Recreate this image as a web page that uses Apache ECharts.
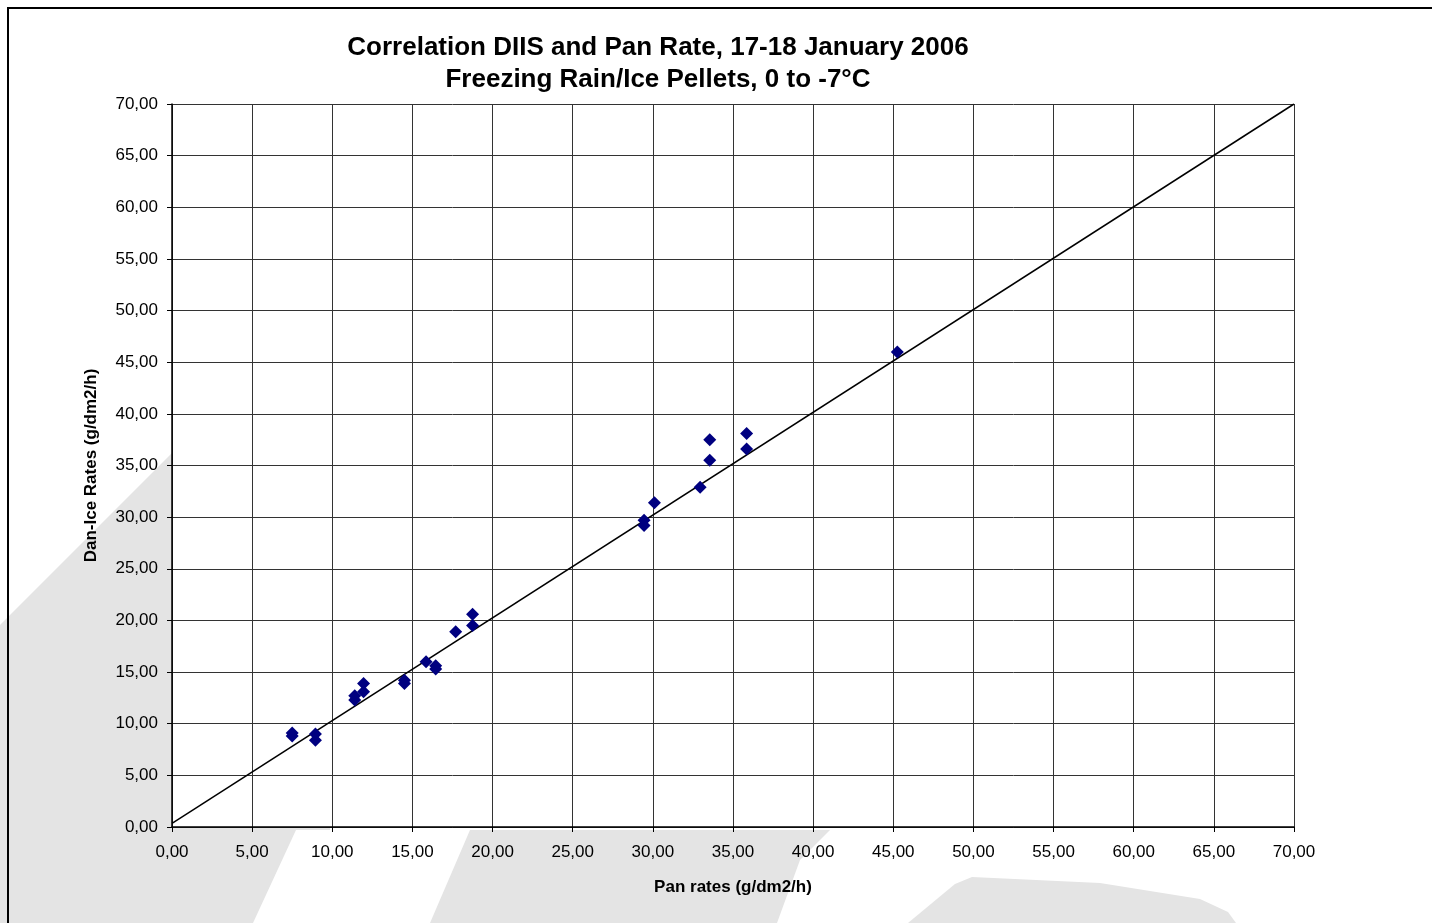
<!DOCTYPE html>
<html>
<head>
<meta charset="utf-8">
<title>Correlation DIIS and Pan Rate</title>
<script src="https://cdn.jsdelivr.net/npm/echarts@6/dist/echarts.min.js"></script>
<style>
  html, body { margin: 0; padding: 0; background: #ffffff; }
  #chart { width: 1432px; height: 923px; }
</style>
</head>
<body>
<div id="chart"></div>
<script>
// Pan rate vs. Dan-Ice rate, g/dm2/h
const panRates = [7.5, 7.5, 8.95, 8.95, 11.4, 11.4, 11.95, 11.95, 14.5, 14.5, 15.85, 16.45, 16.45,
  17.7, 18.75, 18.75, 29.45, 29.45, 30.1, 32.95, 33.55, 33.55, 35.85, 35.85, 45.25];
const danIceRates = [9.1, 8.8, 9.0, 8.4, 12.7, 12.3, 13.9, 13.1, 14.2, 13.9, 16.0, 15.6, 15.3,
  18.9, 20.6, 19.5, 29.7, 29.2, 31.4, 32.9, 37.5, 35.5, 38.1, 36.6, 46.0];

// Reference line
const fitX = [0, 70];
const fitY = [0.35, 70];

// Axis ticks
const axisMin = 0;
const axisMax = 70;
const axisStep = 5;

const titleLines = ['Correlation DIIS and Pan Rate, 17-18 January 2006', 'Freezing Rain/Ice Pellets, 0 to -7°C'];
const xName = 'Pan rates (g/dm2/h)';
const yName = 'Dan-Ice Rates (g/dm2/h)';

const FONT = '"Liberation Sans", Arial, sans-serif';
const fmt = v => v.toFixed(2).replace('.', ',');

const points = panRates.map((x, i) => [x, danIceRates[i]]);
const fitLine = fitX.map((x, i) => [x, fitY[i]]);

const GRAY = '#e4e4e4';

const chart = echarts.init(document.getElementById('chart'), null, { renderer: 'canvas' });

function axisCommon(name, nameGap) {
  return {
    type: 'value',
    min: axisMin,
    max: axisMax,
    interval: axisStep,
    name: name,
    nameLocation: 'middle',
    nameGap: nameGap,
    nameTextStyle: { fontFamily: FONT, fontWeight: 'bold', fontSize: 17, color: '#000' },
    axisLine: { show: true, onZero: false, lineStyle: { color: '#000', width: 1.5 } },
    axisTick: { show: true, inside: false, length: 5, lineStyle: { color: '#000', width: 1 } },
    axisLabel: { fontFamily: FONT, fontSize: 17, color: '#000', formatter: fmt },
    splitLine: { show: true, lineStyle: { color: '#333', width: 1 } }
  };
}

const xAxis = axisCommon(xName, 52);
xAxis.axisLabel.margin = 17;
const yAxis = axisCommon(yName, 72);
yAxis.axisLabel.margin = 14;

chart.setOption({
  backgroundColor: '#ffffff',
  animation: false,
  graphic: [
    // soft gray backdrop shapes
    { type: 'polygon', z: -10, silent: true,
      shape: { points: [[0, 625], [180, 445], [330, 300], [330, 830], [296, 830], [253, 923], [0, 923]] },
      style: { fill: GRAY } },
    { type: 'polygon', z: -10, silent: true,
      shape: { points: [[470, 830], [830, 830], [800, 860], [777, 923], [430, 923]] },
      style: { fill: GRAY } },
    { type: 'polygon', z: -10, silent: true,
      shape: { points: [[908, 923], [955, 884], [972, 877], [1100, 883], [1200, 899], [1228, 912], [1236, 923]] },
      style: { fill: GRAY } },
    // outer frame
    { type: 'rect', z: 100, silent: true,
      shape: { x: 8, y: 8, width: 1500, height: 1000 },
      style: { fill: 'none', stroke: '#000', lineWidth: 2 } },
    // title
    { type: 'text', z: 100, silent: true, x: 658, y: 48,
      style: { text: titleLines[0], font: 'bold 26px ' + FONT, fill: '#000', align: 'center', verticalAlign: 'middle' } },
    { type: 'text', z: 100, silent: true, x: 658, y: 80,
      style: { text: titleLines[1], font: 'bold 26px ' + FONT, fill: '#000', align: 'center', verticalAlign: 'middle' } }
  ],
  grid: {
    left: 172, right: 138, top: 104, bottom: 96,
    show: true, backgroundColor: '#ffffff', borderWidth: 0
  },
  xAxis: xAxis,
  yAxis: yAxis,
  series: [
    {
      type: 'line',
      data: fitLine,
      showSymbol: false,
      symbol: 'none',
      lineStyle: { color: '#000', width: 1.5 },
      z: 2,
      silent: true
    },
    {
      type: 'scatter',
      data: points,
      symbol: 'diamond',
      symbolSize: 13,
      itemStyle: { color: '#000080', opacity: 1 },
      z: 3
    }
  ]
});
</script>
</body>
</html>
